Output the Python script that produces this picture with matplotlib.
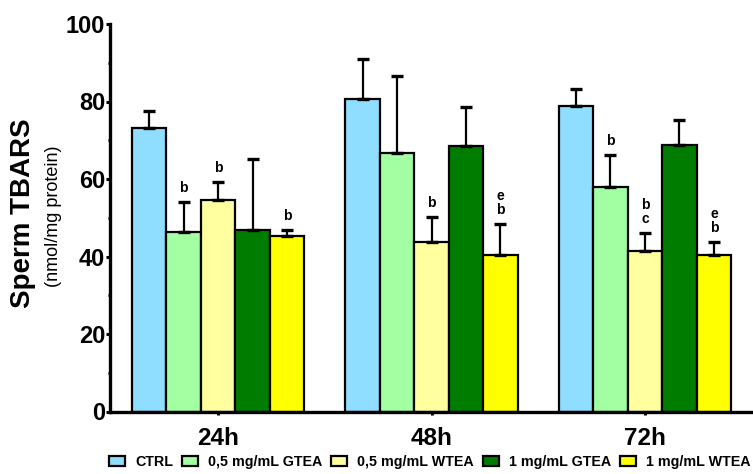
import matplotlib.pyplot as plt
import numpy as np

plt.rcParams['font.family'] = ['Liberation Sans', 'DejaVu Sans']

# TBARS means and upper SEM per treatment, at 24h / 48h / 72h
times = ['24h', '48h', '72h']
groups = ['CTRL', '0,5 mg/mL GTEA', '0,5 mg/mL WTEA', '1 mg/mL GTEA', '1 mg/mL WTEA']
ctrl = [73.1, 80.7, 78.8]
gtea05 = [46.3, 66.6, 57.9]
wtea05 = [54.7, 43.8, 41.3]
gtea1 = [46.8, 68.5, 68.9]
wtea1 = [45.2, 40.5, 40.3]
ctrl_sem = [4.4, 10.3, 4.3]
gtea05_sem = [7.7, 20.1, 8.3]
wtea05_sem = [4.6, 6.5, 4.7]
gtea1_sem = [18.4, 10.2, 6.2]
wtea1_sem = [1.6, 7.8, 3.4]
# significance letters above each bar
ctrl_sig = ['', '', '']
gtea05_sig = ['b', '', 'b']
wtea05_sig = ['b', 'b', 'b\nc']
gtea1_sig = ['', '', '']
wtea1_sig = ['b', 'e\nb', 'e\nb']

colors = ['#8FDEFF', '#A2FFA2', '#FFFFA0', '#007C00', '#FFFF00']
means = [ctrl, gtea05, wtea05, gtea1, wtea1]
sems = [ctrl_sem, gtea05_sem, wtea05_sem, gtea1_sem, wtea1_sem]
sigs = [ctrl_sig, gtea05_sig, wtea05_sig, gtea1_sig, wtea1_sig]

fig = plt.figure(figsize=(7.53, 4.74), dpi=100)
ax = fig.add_axes([110/753, 62.5/474, 643/753, 387.5/474])

x = np.arange(len(times))
w = 0.1616
for i in range(len(groups)):
    pos = x + (i - 2) * w
    ax.bar(pos, means[i], w, color=colors[i], edgecolor='black',
           linewidth=1.6, label=groups[i], zorder=2)
    ax.errorbar(pos, means[i], yerr=[np.zeros(3), sems[i]], fmt='none',
                ecolor='black', elinewidth=1.6, capsize=4, capthick=2.4,
                zorder=3)
    for p, m, s, t in zip(pos, means[i], sems[i], sigs[i]):
        if t:
            ax.annotate(t, (p, m + s), xytext=(0, 5), textcoords='offset points',
                        ha='center', va='bottom', fontsize=10, fontweight='bold',
                        linespacing=1.05)

ax.set_xlim(-0.506, 2.506)
ax.set_ylim(0, 100)
ax.set_yticks(np.arange(0, 101, 20))
ax.set_yticks(np.arange(10, 100, 20), minor=True)
ax.set_xticks(x)
ax.set_xticklabels(times, fontsize=17.5, fontweight='bold')
ax.tick_params(axis='y', which='major', labelsize=17, width=2.2, length=3, pad=0.5)
for lab in ax.get_yticklabels():
    lab.set_fontweight('bold')
ax.tick_params(axis='y', which='minor', width=2.2, length=1.5)
ax.tick_params(axis='x', width=2.2, length=2, pad=9)
for s in ['top', 'right']:
    ax.spines[s].set_visible(False)
for s in ['left', 'bottom']:
    ax.spines[s].set_linewidth(2.4)

fig.text(23/753, 1 - 213.5/474, 'Sperm TBARS', rotation=90, ha='center',
         va='center', fontsize=20, fontweight='bold')
fig.text(53/753, 1 - 216.5/474, '(nmol/mg protein)', rotation=90, ha='center',
         va='center', fontsize=13)

fig.legend(loc='center left', bbox_to_anchor=(109/753, 1 - 462/474), ncol=5,
           frameon=False, prop={'size': 10.3, 'weight': 'bold'},
           handlelength=1.12, handleheight=0.7, handletextpad=0.7,
           columnspacing=0.63, borderaxespad=0, borderpad=0)

fig.savefig('out.png', dpi=100)
